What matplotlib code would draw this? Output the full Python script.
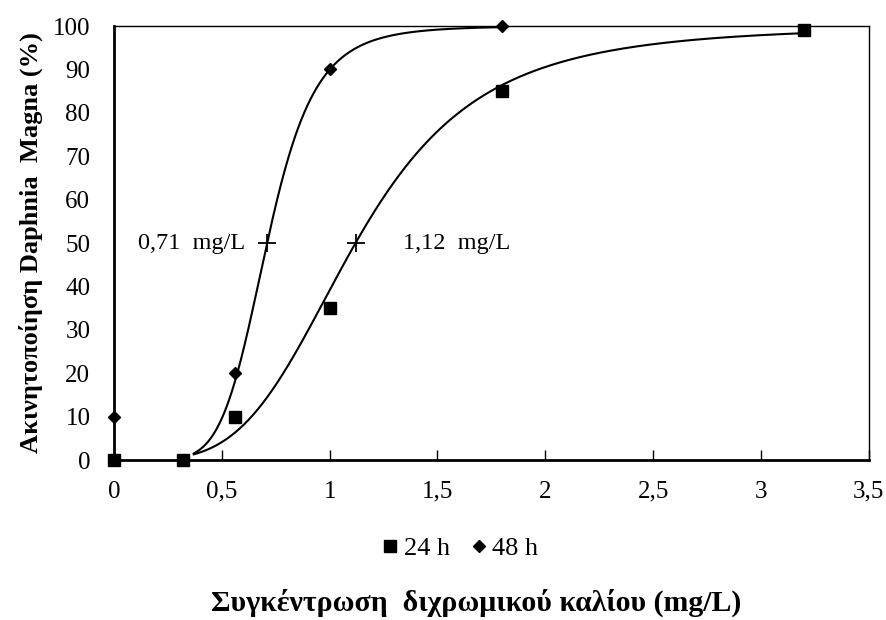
import numpy as np
import matplotlib
matplotlib.use("Agg")
import matplotlib.pyplot as plt
from matplotlib.ticker import FuncFormatter

plt.rcParams['font.family'] = ['Liberation Serif', 'DejaVu Serif']

# Observed immobilisation (%) vs potassium dichromate concentration (mg/L)
conc_24h = [0.0, 0.32, 0.56, 1.0, 1.8, 3.2]
immob_24h = [0, 0, 10, 35, 85, 99]
conc_48h = [0.0, 0.56, 1.0, 1.8]
immob_48h = [10, 20, 90, 100]

# Fitted log-logistic dose-response parameters (EC50 in mg/L, Hill slope)
ec50_24h, slope_24h = 1.12, 3.9
ec50_48h, slope_48h = 0.71, 6.4
fit_start = 0.37
fit_end_24h = 3.2
fit_end_48h = 1.8

xticks = [0, 0.5, 1, 1.5, 2, 2.5, 3, 3.5]
yticks = list(range(0, 101, 10))


def loglogistic(x, ec50, slope):
    return 100.0 / (1.0 + (ec50 / x) ** slope)


fig = plt.figure(figsize=(8.87, 6.2), dpi=100)
ax = fig.add_axes([0.1285, 0.258, 0.851, 0.700])

x24 = np.linspace(fit_start, fit_end_24h, 400)
x48 = np.linspace(fit_start, fit_end_48h, 400)
ax.plot(x24, loglogistic(x24, ec50_24h, slope_24h), color='black', lw=1.5, zorder=2)
ax.plot(x48, loglogistic(x48, ec50_48h, slope_48h), color='black', lw=1.5, zorder=2)

ax.plot(conc_24h, immob_24h, 's', color='black', ms=8.5, label='24 h',
        clip_on=False, zorder=4)
ax.plot(conc_48h, immob_48h, 'D', color='black', ms=6, label='48 h',
        clip_on=False, zorder=3)

# EC50 markers and labels
ax.plot([ec50_48h, ec50_24h], [50, 50], '+', color='black', ms=13, mew=1.3, zorder=5)
ax.text(ec50_48h - 0.1, 50, '0,71  mg/L', ha='right', va='center', fontsize=17.5)
ax.text(ec50_24h + 0.22, 50, '1,12  mg/L', ha='left', va='center', fontsize=17.5)

ax.set_xlim(0, 3.5)
ax.set_ylim(0, 100)
ax.set_xticks(xticks)
ax.set_yticks(yticks)
ax.xaxis.set_major_formatter(FuncFormatter(lambda v, p: f"{v:g}".replace('.', ',')))
ax.tick_params(axis='x', direction='in', length=7, width=1, labelsize=18, pad=15)
ax.tick_params(axis='y', length=0, labelsize=18, pad=17)

for side in ('left', 'bottom'):
    ax.spines[side].set_linewidth(2)
for side in ('top', 'right'):
    ax.spines[side].set_linewidth(1)

ax.set_ylabel('Ακινητοποίηση Daphnia  Magna (%)', fontsize=19, fontweight='bold', labelpad=7)
fig.text(0.537, 0.027, 'Συγκέντρωση  διχρωμικού καλίου (mg/L)', ha='center', va='center',
         fontsize=21.5, fontweight='bold')

leg = fig.legend(loc='center', bbox_to_anchor=(0.519, 0.116), ncol=2, frameon=False,
                 fontsize=19, handlelength=0.6, handletextpad=0.2, columnspacing=0.8,
                 markerscale=0.95)

fig.savefig('out.png', dpi=100, facecolor='white')
